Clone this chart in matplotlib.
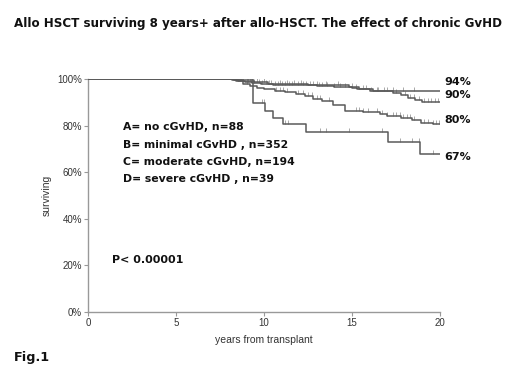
import numpy as np
import matplotlib
matplotlib.use("Agg")
import matplotlib.pyplot as plt
from matplotlib.path import Path
from matplotlib.ticker import FuncFormatter

# ---- data ----
title = "Allo HSCT surviving 8 years+ after allo-HSCT. The effect of chronic GvHD"

times_A = [0, 8.3, 8.8, 9.4, 10.2, 12.5, 14.8, 15.4, 16.2]
surv_A = [1.0, 0.995, 0.99, 0.985, 0.98, 0.976, 0.966, 0.955, 0.948]
cens_A = [8.1, 8.3, 8.5, 8.7, 9.0, 9.2, 9.6, 10.0, 10.4, 10.9, 11.3, 11.7, 12.1,
          12.6, 13.0, 13.5, 14.2, 15.0, 15.8, 16.4, 17.3, 17.9, 18.5]

times_B = [0, 8.2, 8.5, 8.9, 9.3, 9.8, 10.5, 11.5, 13.0, 14.0, 15.0, 15.3, 16.0,
           17.3, 17.8, 18.2, 18.6, 19.0]
surv_B = [1.0, 0.995, 0.99, 0.986, 0.982, 0.979, 0.976, 0.973, 0.97, 0.967,
          0.962, 0.956, 0.949, 0.94, 0.93, 0.918, 0.91, 0.903]
cens_B = [8.05, 8.15, 8.25, 8.4, 8.55, 8.65, 8.8, 9.0, 9.1, 9.25, 9.45, 9.7, 9.9,
          10.1, 10.3, 10.6, 10.8, 11.0, 11.2, 11.4, 11.6, 11.9, 12.2, 12.4, 12.8,
          13.1, 13.3, 13.6, 14.0, 14.3, 14.6, 15.2, 15.6, 16.1, 16.5, 16.8, 17.0,
          17.5, 18.0, 18.3, 18.5, 18.8, 19.1, 19.3, 19.5, 19.7, 19.9]

times_C = [0, 8.4, 8.8, 9.2, 9.6, 10.0, 10.6, 11.2, 11.8, 12.3, 12.8, 13.3, 13.9,
           14.6, 15.6, 16.6, 17.0, 17.8, 18.4, 18.9, 19.6]
surv_C = [1.0, 0.99, 0.98, 0.97, 0.962, 0.955, 0.95, 0.943, 0.935, 0.925, 0.915,
          0.905, 0.89, 0.862, 0.857, 0.85, 0.841, 0.833, 0.825, 0.812, 0.805]
cens_C = [8.1, 8.5, 9.0, 10.7, 10.9, 11.1, 11.3, 11.9, 12.2, 12.5, 12.7, 13.0, 13.2,
          13.7, 15.2, 15.4, 15.6, 15.9, 16.4, 16.7, 17.0, 17.3, 17.5, 17.7, 17.9,
          18.1, 18.3, 18.5, 19.1, 19.3, 19.6, 19.8, 19.95]

times_D = [0, 9.38, 10.05, 10.5, 11.1, 12.4, 17.05, 18.86]
surv_D = [1.0, 0.897, 0.863, 0.831, 0.806, 0.771, 0.728, 0.68]
cens_D = [9.86, 10.0, 11.2, 11.35, 13.2, 13.5, 14.85, 16.68, 17.72, 18.38, 18.8, 19.58]

end_labels = ["94%", "90%", "80%", "67%"]
end_label_y = [0.988, 0.93, 0.824, 0.667]

legend_lines = ["A= no cGvHD, n=88", "B= minimal cGvHD , n=352",
                "C= moderate cGvHD, n=194", "D= severe cGvHD , n=39"]
pvalue = "P< 0.00001"
x_ticks = [0, 5, 10, 15, 20]
y_ticks = [0, 0.2, 0.4, 0.6, 0.8, 1.0]

# ---- figure ----
fig = plt.figure(figsize=(5.2, 3.9), dpi=100)
ax = fig.add_axes([88.3 / 520, 78 / 390, (440 - 88.3) / 520, (312 - 79) / 390])

line_col = "#5a5a5a"
cens_col = "#a8a8a8"
tick_marker = Path([(0, 0), (0, 1)])

groups = [(times_A, surv_A, cens_A), (times_B, surv_B, cens_B),
          (times_C, surv_C, cens_C), (times_D, surv_D, cens_D)]
for t, s, c in groups:
    tt = list(t) + [20]
    ss = list(s) + [s[-1]]
    ax.step(tt, ss, where="post", color=line_col, lw=1.1, zorder=3)
    idx = np.searchsorted(np.array(t), np.array(c), side="right") - 1
    cy = np.array(s)[idx]
    ax.plot(c, cy, linestyle="none", marker=tick_marker, markersize=6,
            markeredgewidth=0.7, color=cens_col, zorder=2)

ax.set_xlim(0, 20)
ax.set_ylim(0, 1.0)
ax.set_xticks(x_ticks)
ax.set_yticks(y_ticks)
ax.yaxis.set_major_formatter(FuncFormatter(lambda v, p: f"{v*100:.0f}%"))
for sp in ["top", "right"]:
    ax.spines[sp].set_visible(False)
for sp in ["left", "bottom"]:
    ax.spines[sp].set_color("#999999")
    ax.spines[sp].set_linewidth(1.0)
ax.tick_params(length=3, width=0.8, color="#999999", labelsize=7,
               labelcolor="#333333", pad=1.5)
for lab in ax.get_xticklabels() + ax.get_yticklabels():
    lab.set_family("Liberation Sans")
ax.set_xlabel("years from transplant", fontsize=7.5, family="Liberation Sans",
              color="#333333", labelpad=5)
ax.set_ylabel("surviving", fontsize=7.5, family="Liberation Sans",
              color="#333333", labelpad=4)

bold = dict(fontweight="bold", family="DejaVu Sans", color="#111111")
for lab, y in zip(end_labels, end_label_y):
    ax.text(20.25, y, lab, fontsize=8, va="center", ha="left", clip_on=False, **bold)

for i, txt in enumerate(legend_lines):
    fig.text(123 / 520, 1 - (127.5 + i * 17.3) / 390, txt, fontsize=7.8,
             va="center", ha="left", **bold)
fig.text(111.5 / 520, 1 - 260 / 390, pvalue, fontsize=8.0, va="center",
         ha="left", **bold)

fig.text(14 / 520, 1 - 23 / 390, title, fontsize=8.6, va="center", ha="left", **bold)
fig.text(14 / 520, 1 - 358 / 390, "Fig.1", fontsize=9.2, va="center", ha="left", **bold)

fig.savefig("out.png", dpi=100)
